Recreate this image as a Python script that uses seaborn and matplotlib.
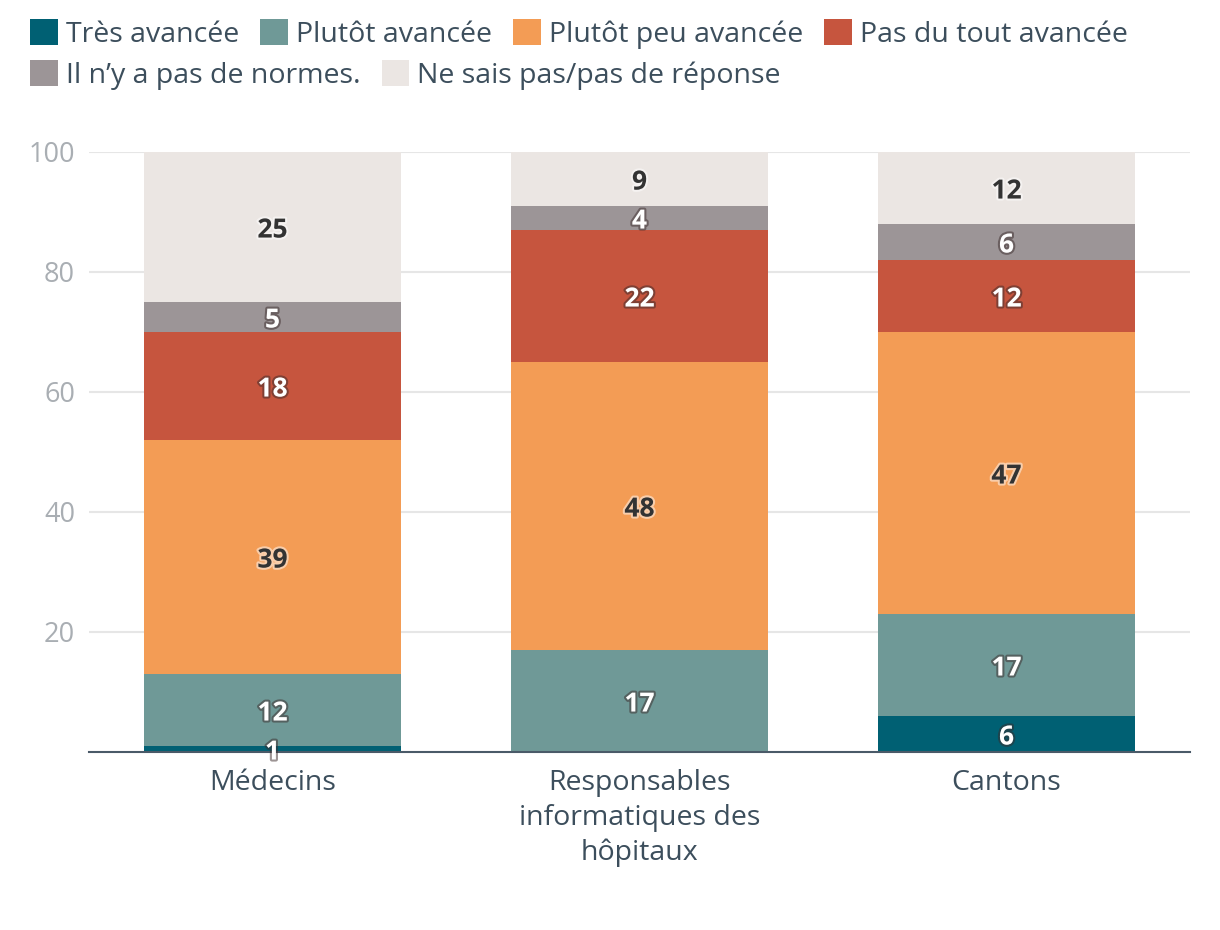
import matplotlib
matplotlib.use("Agg")
import matplotlib.pyplot as plt
import matplotlib.patheffects as pe
from matplotlib.patches import Patch
import seaborn as sns
import numpy as np
import pandas as pd

categories = ["Médecins", "Responsables\ninformatiques des\nhôpitaux", "Cantons"]
series_names = ["Très avancée", "Plutôt avancée", "Plutôt peu avancée",
                "Pas du tout avancée", "Il n’y a pas de normes.", "Ne sais pas/pas de réponse"]
tres_avancee = [1, 0, 6]
plutot_avancee = [12, 17, 17]
plutot_peu_avancee = [39, 48, 47]
pas_du_tout = [18, 22, 12]
pas_de_normes = [5, 4, 6]
ne_sais_pas = [25, 9, 12]
y_ticks = [20, 40, 60, 80, 100]

colors = ["#006073", "#6f9997", "#f39c55", "#c6553e", "#9c9597", "#ebe6e3"]
label_dark = [False, False, True, False, False, True]

sns.set_theme(style="white")
plt.rcParams["font.family"] = ["Open Sans", "DejaVu Sans"]

TEXT = "#3c4e5c"

values = np.array([tres_avancee, plutot_avancee, plutot_peu_avancee,
                   pas_du_tout, pas_de_normes, ne_sais_pas], dtype=float)
cum = np.cumsum(values, axis=0)

fig = plt.figure(figsize=(12.2, 9.3), dpi=100)
ax = fig.add_axes([89/1220, 178/930, (1190-89)/1220, 600/930])

for i in range(len(series_names) - 1, -1, -1):
    df = pd.DataFrame({"cat": categories, "val": cum[i]})
    sns.barplot(data=df, x="cat", y="val", color=colors[i], width=0.7,
                saturation=1, ax=ax, zorder=2, order=categories,
                linewidth=0, edgecolor="none")

for i in range(len(series_names)):
    for j in range(len(categories)):
        v = values[i, j]
        if v <= 0:
            continue
        ymid = cum[i, j] - v / 2
        if label_dark[i]:
            col, halo = "#333333", "#ffffff"
        else:
            col, halo = "#ffffff", "#3a2a2a"
        ax.text(j, ymid, f"{int(v)}", ha="center", va="center_baseline", fontsize=19,
                fontweight="bold", color=col, zorder=5,
                path_effects=[pe.withStroke(linewidth=3, foreground=halo, alpha=0.5)])

ax.set_xlim(-0.5, 2.5)
ax.set_ylim(0, 100)
ax.set_yticks(y_ticks)
ax.set_yticklabels([str(t) for t in y_ticks])
ax.set_xlabel("")
ax.set_ylabel("")
ax.grid(axis="y", color="#e6e6e6", linewidth=1.5, zorder=0)
ax.set_axisbelow(True)
for s in ["top", "right", "left"]:
    ax.spines[s].set_visible(False)
ax.spines["bottom"].set_color("#4a5a68")
ax.spines["bottom"].set_linewidth(1.5)
ax.tick_params(axis="y", length=0, pad=10, labelsize=19.5, labelcolor="#a9aeb3")
ax.tick_params(axis="x", length=0, pad=12, labelsize=20.5, labelcolor=TEXT)
for lab in ax.get_xticklabels():
    lab.set_linespacing(1.33)

handles = [Patch(facecolor=c, edgecolor="none") for c in colors]
common = dict(frameon=False, fontsize=20.5, handlelength=0.98, handleheight=1.02,
              handletextpad=0.27, columnspacing=0.75, borderpad=0, borderaxespad=0,
              labelcolor=TEXT, loc="upper left")
leg1 = fig.legend(handles[:4], series_names[:4], ncol=4,
                  bbox_to_anchor=(30/1220, 1 - 19/930), **common)
leg2 = fig.legend(handles[4:], series_names[4:], ncol=2,
                  bbox_to_anchor=(30/1220, 1 - 60/930), **common)

fig.savefig("out.png", dpi=100)
